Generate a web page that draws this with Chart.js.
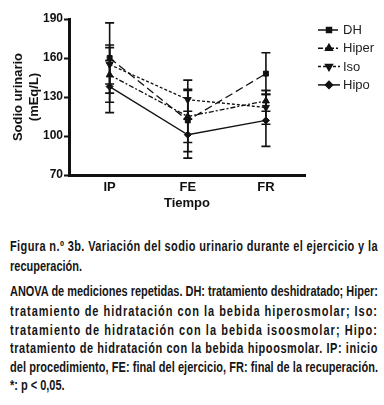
<!DOCTYPE html>
<html><head><meta charset="utf-8">
<script src="https://cdn.jsdelivr.net/npm/chart.js@4.4.0/dist/chart.umd.min.js"></script>
<style>
html,body{margin:0;padding:0;background:#fff;width:384px;height:405px;overflow:hidden}
#wrap{position:absolute;left:0;top:0;width:384px;height:215px}
.ln{position:absolute;left:10px;white-space:nowrap;font-family:"Liberation Sans",Arial,sans-serif;font-weight:bold;font-size:14px;line-height:16px;color:#151515}
.ln span{display:inline-block;transform-origin:0 50%}
</style></head><body>
<div id="wrap"><canvas id="c" width="384" height="215"></canvas></div>
<div id="cap">
<div class="ln" data-j="1" style="top:238px"><span>Figura n.º 3b. Variación del sodio urinario durante el ejercicio y la</span></div>
<div class="ln" data-j="0" id="ref" style="top:258px"><span>recuperación.</span></div>
<div class="ln" data-j="1" style="top:283px"><span>ANOVA de mediciones repetidas. DH: tratamiento deshidratado; Hiper:</span></div>
<div class="ln" data-j="1" style="top:303px"><span>tratamiento de hidratación con la bebida hiperosmolar; Iso:</span></div>
<div class="ln" data-j="1" style="top:321.5px"><span>tratamiento de hidratación con la bebida isoosmolar; Hipo:</span></div>
<div class="ln" data-j="1" style="top:340px"><span>tratamiento de hidratación con la bebida hipoosmolar. IP: inicio</span></div>
<div class="ln" data-j="1" style="top:358.5px"><span>del procedimiento, FE: final del ejercicio, FR: final de la recuperación.</span></div>
<div class="ln" data-j="0" style="top:377px"><span>*: p &lt; 0,05.</span></div>
</div>
<script>
const categories = ['IP', 'FE', 'FR'];
const seriesNames = ['DH', 'Hiper', 'Iso', 'Hipo'];
const dh = [160, 112, 148];
const dhErr = [27, 24, 16];
const hiper = [147, 115, 127];
const hiperErr = [21, 20, 8];
const iso = [155, 128, 122];
const isoErr = [15, 15, 13];
const hipo = [138, 101, 112];
const hipoErr = [20, 18, 20];
const yTicks = [70, 100, 130, 160, 190];

// caption: condensed glyphs, justified lines widened by letter-spacing or squeezed
(function(){
  const W = 368;
  const refW = document.querySelector('#ref span').getBoundingClientRect().width;
  const s0 = 72 / refW;
  document.querySelectorAll('.ln').forEach(l => {
    const sp = l.firstElementChild;
    const w = sp.getBoundingClientRect().width;
    let s = s0;
    if (l.dataset.j === '1') {
      const target = W / s0;
      const extra = target - w;
      if (extra > 0) {
        const n = sp.textContent.length;
        sp.style.letterSpacing = (extra / n).toFixed(3) + 'px';
      } else {
        s = W / w;
      }
    }
    sp.style.transform = 'scaleX(' + s.toFixed(4) + ')';
  });
})();

const styles = [
  {dash:[8,4], pt:'rect', r:3.5, rot:0},
  {dash:[5,2,2,2], pt:'triangle', r:4, rot:0},
  {dash:[3,2], pt:'triangle', r:4, rot:180},
  {dash:[], pt:'rectRot', r:3.5, rot:0}
];
const vals = [dh, hiper, iso, hipo];
const errs = [dhErr, hiperErr, isoErr, hipoErr];

const datasets = vals.map((v, i) => ({
  label: seriesNames[i],
  data: v.map((y, k) => ({x: k, y: y})),
  errors: errs[i],
  borderColor: '#111',
  backgroundColor: '#111',
  borderWidth: 1.3,
  borderDash: styles[i].dash,
  pointStyle: styles[i].pt,
  pointRadius: styles[i].r,
  pointRotation: styles[i].rot,
  pointBorderWidth: 1,
  pointBorderColor: '#111',
  pointBackgroundColor: '#111',
  tension: 0,
  fill: false
}));

const errorBars = {
  id: 'errorBars',
  beforeDatasetsDraw(chart) {
    const ctx = chart.ctx;
    const xs = chart.scales.x, ys = chart.scales.y;
    ctx.save();
    ctx.strokeStyle = '#111';
    ctx.lineWidth = 1.6;
    chart.data.datasets.forEach(ds => {
      ds.data.forEach((p, k) => {
        const e = ds.errors[k];
        const x = xs.getPixelForValue(p.x);
        const y1 = ys.getPixelForValue(p.y + e);
        const y2 = ys.getPixelForValue(p.y - e);
        ctx.beginPath();
        ctx.moveTo(x, y1); ctx.lineTo(x, y2);
        ctx.moveTo(x - 4.5, y1); ctx.lineTo(x + 4.5, y1);
        ctx.moveTo(x - 4.5, y2); ctx.lineTo(x + 4.5, y2);
        ctx.stroke();
      });
    });
    ctx.restore();
  }
};

const customLegend = {
  id: 'customLegend',
  afterDraw(chart) {
    const ctx = chart.ctx;
    ctx.save();
    const x0 = 318, y0 = 30, dy = 18.3;
    chart.data.datasets.forEach((ds, i) => {
      const y = y0 + i * dy;
      ctx.strokeStyle = '#111';
      ctx.lineWidth = 1.5;
      ctx.setLineDash(ds.borderDash);
      ctx.beginPath();
      ctx.moveTo(x0, y); ctx.lineTo(x0 + 22, y);
      ctx.stroke();
      ctx.setLineDash([]);
      ctx.fillStyle = '#111';
      Chart.helpers.drawPoint(ctx, {pointStyle: ds.pointStyle, radius: ds.pointRadius, rotation: ds.pointRotation, borderWidth: 1}, x0 + 11, y);
      ctx.fillStyle = '#222';
      ctx.font = '13px "Liberation Sans", Arial, sans-serif';
      ctx.textBaseline = 'middle';
      ctx.fillText(ds.label, x0 + 25, y + 0.5);
    });
    ctx.restore();
  }
};

new Chart(document.getElementById('c'), {
  type: 'line',
  data: { datasets },
  plugins: [errorBars, customLegend],
  options: {
    responsive: false,
    animation: false,
    layout: { padding: { left: 11, right: 79, top: 19, bottom: 4 } },
    plugins: { legend: { display: false }, tooltip: { enabled: false } },
    scales: {
      x: {
        type: 'linear', min: -0.52, max: 2.5,
        afterBuildTicks(s) { s.ticks = categories.map((c, k) => ({value: k})); },
        afterFit(s) { s.height = 36; },
        ticks: { callback: (v) => categories[v] ?? '', color: '#111', font: {family: '"Liberation Sans", Arial, sans-serif', size: 13, weight: 'bold'}, padding: 5, autoSkip: false, maxRotation: 0 },
        grid: { display: true, drawOnChartArea: false, drawTicks: false, color: '#111' },
        border: { display: true, color: '#111', width: 3 },
        title: { display: true, text: 'Tiempo', color: '#111', font: {family: '"Liberation Sans", Arial, sans-serif', size: 13, weight: 'bold'}, padding: {top: -5, bottom: 0} }
      },
      y: {
        min: 70, max: 190,
        afterBuildTicks(s) { s.ticks = yTicks.map(v => ({value: v})); },
        afterFit(s) { s.width = 58; },
        ticks: { color: '#111', font: {family: '"Liberation Sans", Arial, sans-serif', size: 12, weight: 'bold'}, padding: 1 },
        grid: { display: true, drawOnChartArea: false, drawTicks: true, tickLength: 5, tickWidth: 2, color: '#111' },
        border: { display: true, color: '#111', width: 3 },
        title: { display: true, text: ['Sodio urinario', '(mEq/L)'], color: '#111', font: {family: '"Liberation Sans", Arial, sans-serif', size: 13, weight: 'bold'}, padding: {top: 0, bottom: 2}, lineHeight: 1.25 }
      }
    }
  }
});
</script>
</body></html>
